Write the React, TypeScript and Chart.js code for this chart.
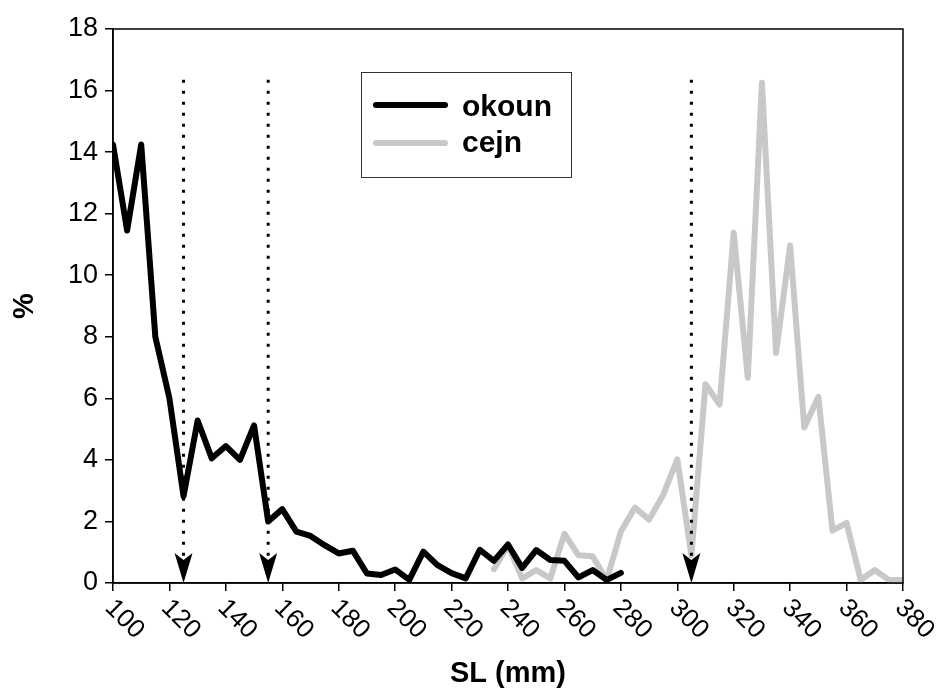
import React, { useEffect, useRef } from 'react';
import { Chart, registerables } from 'chart.js';
Chart.register(...registerables);

// ---- data ----
const okounSL = [100, 105, 110, 115, 120, 125, 130, 135, 140, 145, 150, 155, 160, 165, 170, 175, 180, 185, 190, 195, 200, 205, 210, 215, 220, 225, 230, 235, 240, 245, 250, 255, 260, 265, 270, 275, 280];
const okounPct = [14.25, 11.45, 14.25, 8.0, 6.0, 2.82, 5.28, 4.05, 4.45, 4.0, 5.12, 2.0, 2.4, 1.67, 1.53, 1.23, 0.96, 1.05, 0.31, 0.26, 0.44, 0.1, 1.02, 0.58, 0.32, 0.15, 1.08, 0.72, 1.25, 0.49, 1.07, 0.75, 0.72, 0.18, 0.42, 0.1, 0.33];
const cejnSL = [235, 240, 245, 250, 255, 260, 265, 270, 275, 280, 285, 290, 295, 300, 305, 310, 315, 320, 325, 330, 335, 340, 345, 350, 355, 360, 365, 370, 375, 380];
const cejnPct = [0.45, 1.23, 0.15, 0.42, 0.15, 1.6, 0.9, 0.87, 0.1, 1.67, 2.45, 2.06, 2.86, 4.02, 0.9, 6.46, 5.8, 11.38, 6.67, 16.25, 7.48, 10.97, 5.05, 6.05, 1.7, 1.95, 0.1, 0.42, 0.1, 0.1];
const seriesNames = ['okoun', 'cejn'];
const seriesColors = ['#000000', '#c8c8c8'];
const arrowSL = [125, 155, 305];
const arrowTopPct = 16.35;
const xMin = 100, xMax = 380, xStep = 20;
const yMin = 0, yMax = 18, yStep = 2;
const xTitle = 'SL (mm)';
const yTitle = '%';

const FONT = '"Liberation Sans", Arial, sans-serif';

const overlayPlugin = {
  id: 'overlay',
  afterDraw(chart: any) {
    const { ctx, chartArea: ca, scales } = chart;
    const xs = scales.x, ys = scales.y;
    ctx.save();
    // frame
    ctx.strokeStyle = '#000';
    ctx.lineWidth = 1.5;
    ctx.strokeRect(ca.left, ca.top, ca.right - ca.left, ca.bottom - ca.top);

    // arrows
    arrowSL.forEach((v) => {
      const x = xs.getPixelForValue(v);
      const tipY = ys.getPixelForValue(0);
      const topY = ys.getPixelForValue(arrowTopPct);
      ctx.save();
      ctx.strokeStyle = '#000';
      ctx.lineWidth = 3;
      ctx.setLineDash([3, 8]);
      ctx.lineCap = 'butt';
      ctx.beginPath();
      ctx.moveTo(x, topY);
      ctx.lineTo(x, tipY - 22);
      ctx.stroke();
      ctx.restore();
      ctx.fillStyle = '#000';
      ctx.beginPath();
      ctx.moveTo(x, tipY);
      ctx.lineTo(x - 9, tipY - 30);
      ctx.lineTo(x, tipY - 23);
      ctx.lineTo(x + 9, tipY - 30);
      ctx.closePath();
      ctx.fill();
    });

    // x tick labels, rotated clockwise
    ctx.fillStyle = '#000';
    ctx.font = `26px ${FONT}`;
    ctx.textAlign = 'left';
    ctx.textBaseline = 'middle';
    xs.ticks.forEach((t: any) => {
      const px = xs.getPixelForValue(t.value);
      ctx.save();
      ctx.translate(px - 4, ca.bottom + 21);
      ctx.rotate(Math.PI / 4);
      ctx.fillText(String(t.value), 0, 0);
      ctx.restore();
    });

    // axis titles
    ctx.font = `bold 29px ${FONT}`;
    ctx.textAlign = 'center';
    ctx.textBaseline = 'alphabetic';
    ctx.fillText(xTitle, (ca.left + ca.right) / 2, 682);
    ctx.save();
    ctx.translate(33, (ca.top + ca.bottom) / 2);
    ctx.rotate(-Math.PI / 2);
    ctx.fillText(yTitle, 0, 0);
    ctx.restore();

    // legend
    const lx = 361, ly = 72, lw = 210, lh = 105;
    ctx.fillStyle = '#fff';
    ctx.fillRect(lx, ly, lw, lh);
    ctx.strokeStyle = '#333';
    ctx.lineWidth = 1;
    ctx.strokeRect(lx + 0.5, ly + 0.5, lw, lh);
    const rows = [105, 143];
    const bases = [116, 152];
    chart.data.datasets.forEach((ds: any, i: number) => {
      ctx.strokeStyle = ds.borderColor;
      ctx.lineWidth = 6;
      ctx.lineCap = 'round';
      ctx.beginPath();
      ctx.moveTo(376, rows[i]);
      ctx.lineTo(445, rows[i]);
      ctx.stroke();
      ctx.fillStyle = '#000';
      ctx.font = `bold 30px ${FONT}`;
      ctx.textAlign = 'left';
      ctx.textBaseline = 'alphabetic';
      ctx.fillText(ds.label, 462, bases[i]);
    });
    ctx.restore();
  },
};

export default function App() {
  const ref = useRef<HTMLCanvasElement | null>(null);
  useEffect(() => {
    document.body.style.margin = '0';
    const canvas = ref.current!;
    const chart = new Chart(canvas, {
      type: 'line',
      data: {
        datasets: [
          {
            label: seriesNames[0],
            data: okounSL.map((x, i) => ({ x, y: okounPct[i] })),
            borderColor: seriesColors[0],
            borderWidth: 6,
            pointRadius: 0,
            borderJoinStyle: 'round',
            borderCapStyle: 'round',
            tension: 0,
          },
          {
            label: seriesNames[1],
            data: cejnSL.map((x, i) => ({ x, y: cejnPct[i] })),
            borderColor: seriesColors[1],
            borderWidth: 6,
            pointRadius: 0,
            borderJoinStyle: 'round',
            borderCapStyle: 'round',
            tension: 0,
          },
        ],
      },
      options: {
        animation: false,
        responsive: false,
        devicePixelRatio: 1,
        layout: { padding: { left: 0, top: 29, right: 37, bottom: 0 } },
        plugins: { legend: { display: false }, tooltip: { enabled: false } },
        scales: {
          x: {
            type: 'linear',
            min: xMin,
            max: xMax,
            ticks: { stepSize: xStep, display: false },
            grid: { drawOnChartArea: false, drawTicks: true, tickLength: 8, color: '#000', lineWidth: 1.5 },
            border: { display: true, color: '#000', width: 1.5 },
            afterFit: (s: any) => { s.height = 105; },
          },
          y: {
            min: yMin,
            max: yMax,
            ticks: { stepSize: yStep, color: '#000', padding: 7, font: { family: FONT, size: 27 } },
            grid: { drawOnChartArea: false, drawTicks: true, tickLength: 8, color: '#000', lineWidth: 1.5 },
            border: { display: true, color: '#000', width: 1.5 },
            afterFit: (s: any) => { s.width = 113; },
          },
        },
      } as any,
      plugins: [overlayPlugin],
    });
    return () => chart.destroy();
  }, []);
  return (
    <div style={{ width: 940, height: 688, background: '#fff' }}>
      <canvas ref={ref} width={940} height={688} style={{ display: 'block' }} />
    </div>
  );
}
